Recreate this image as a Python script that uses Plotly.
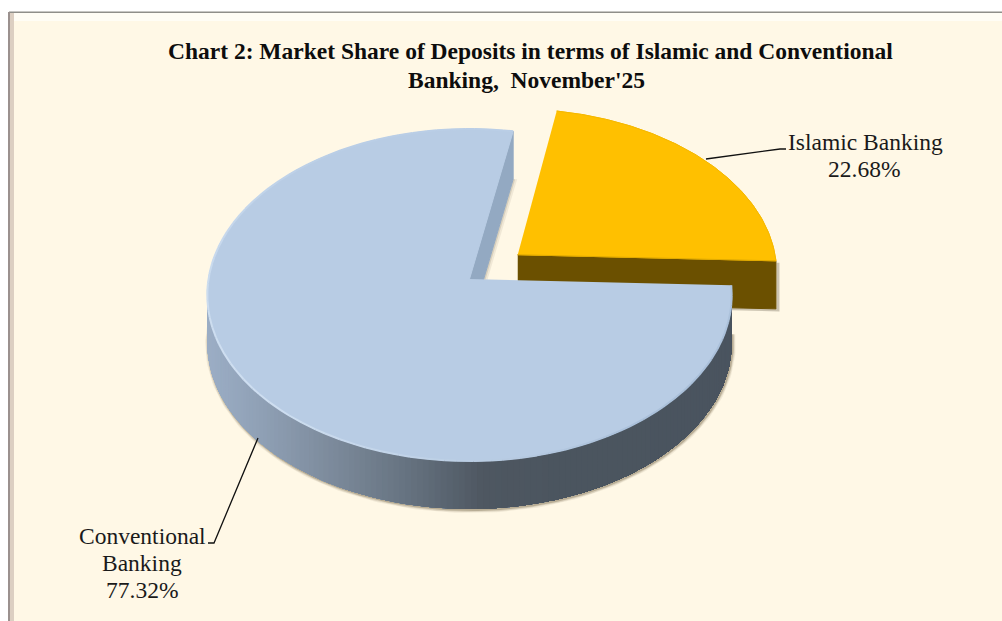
import math
import plotly.graph_objects as go

# ---- data ----
categories = ["Islamic Banking", "Conventional Banking"]
shares = [22.68, 77.32]
title_lines = ["Chart 2: Market Share of Deposits in terms of Islamic and Conventional",
               "Banking,\u00a0 November'25"]

# ---- view of the tilted pie ----
CX, CY = 469.5, 295.0     # ellipse centre on screen
RX, RY = 261.0, 166.0
DIST = 16.0               # how far the true pie centre projects above ellipse centre
K = 0.0964                # perspective strength
DEPTH = 48.0
START_DEG = -2.2          # where the first slice begins
PULL = 0.24               # explode of first slice, in radii

TOP_BLUE = "#B8CCE4"
TOP_GOLD = "#FFC000"
WALL_GOLD = "#6B5000"
CUT_BLUE = "#93A9C2"
BG = "#FFF8E6"


def project(u, v, z=0.0):
    w = 1 + K * v
    return CX + RX * u / w, CY - (RY * v + DIST) / w + z


def arc(a0, a1, ou=0.0, ov=0.0, z=0.0, n=120):
    pts = []
    for i in range(n + 1):
        t = math.radians(a0 + (a1 - a0) * i / n)
        pts.append(project(ou + math.cos(t), ov + math.sin(t), z))
    return pts


def mix(stops, x):
    for (x0, c0), (x1, c1) in zip(stops, stops[1:]):
        if x <= x1:
            f = max(0.0, (x - x0) / (x1 - x0))
            return "rgb(%d,%d,%d)" % tuple(round(a + (b - a) * f) for a, b in zip(c0, c1))
    return "rgb(%d,%d,%d)" % stops[-1][1]


fig = go.Figure()


def poly(pts, fill, line=None, width=1):
    fig.add_trace(go.Scatter(
        x=[p[0] for p in pts], y=[p[1] for p in pts], mode="lines", fill="toself",
        fillcolor=fill, line=dict(color=line or fill, width=width),
        hoverinfo="skip", showlegend=False))


def path(pts, color, width):
    fig.add_trace(go.Scatter(
        x=[p[0] for p in pts], y=[p[1] for p in pts], mode="lines",
        line=dict(color=color, width=width), hoverinfo="skip", showlegend=False))


span_gold = 360.0 * shares[0] / sum(shares)
a_start = START_DEG
a_end = START_DEG + span_gold
a_mid = math.radians((a_start + a_end) / 2)
ou, ov = PULL * math.cos(a_mid), PULL * math.sin(a_mid)

# blue cut face seen through the gap
apex_b = project(0, 0)
blue_end = project(math.cos(math.radians(a_end)), math.sin(math.radians(a_end)))
for off, col in [(4, "rgba(110,100,80,0.10)"), (2, "rgba(110,100,80,0.18)")]:
    poly([(blue_end[0] + off, blue_end[1] + DEPTH), (apex_b[0] + off, apex_b[1] + DEPTH),
          (apex_b[0], apex_b[1] + DEPTH), (blue_end[0], blue_end[1] + DEPTH)], col, width=0)
poly([apex_b, blue_end, (blue_end[0], blue_end[1] + DEPTH), (apex_b[0], apex_b[1] + DEPTH)], CUT_BLUE)

# gold slice
apex_g = project(ou, ov)
gold_arc = arc(a_start, a_end, ou, ov)
gs = gold_arc[0]
wall_g = [apex_g, gs, (gs[0], gs[1] + DEPTH), (apex_g[0], apex_g[1] + DEPTH)]
path([(gs[0] + 2, gs[1] + 2), (gs[0] + 2, gs[1] + DEPTH + 1), (apex_g[0], apex_g[1] + DEPTH + 1)],
     "rgba(110,100,80,0.35)", 3)
poly(wall_g, WALL_GOLD)
poly([apex_g] + gold_arc, TOP_GOLD)
path([apex_g, gs], "#E0AA00", 1)
path(gold_arc, "#F5B800", 1)

# blue slice: shadow, rounded wall, top
blue_arc = arc(a_end, 360 + a_start, n=240)
wall_a0, wall_a1 = 178.0, 360 + a_start
low = arc(wall_a0, wall_a1, z=DEPTH, n=200)
for w, col in [(6, "rgba(120,105,75,0.10)"), (4, "rgba(120,105,75,0.18)"), (2, "rgba(120,105,75,0.35)")]:
    path([(x + 1, y + 1) for x, y in low], col, w)

wall_stops = [(205, (156, 174, 198)), (260, (143, 160, 181)), (330, (124, 138, 155)),
              (400, (103, 116, 130)), (480, (78, 87, 97)), (560, (75, 85, 95)), (735, (74, 84, 95))]
N = 150
for i in range(N):
    # each band runs to the end of the wall and the next one paints over it, so no seams show
    a0 = wall_a0 + (wall_a1 - wall_a0) * i / N
    seg = arc(a0, wall_a1, n=max(4, N - i))
    pts = seg + [(x, y + DEPTH) for x, y in reversed(seg)]
    poly(pts, mix(wall_stops, seg[0][0]), width=0)

poly([apex_b] + blue_arc, TOP_BLUE)
# soft bevel along the rim
B = 90
for i in range(B):
    i0, i1 = i * 240 // B, (i + 1) * 240 // B
    seg = blue_arc[i0:i1 + 1]
    mid = math.radians(a_end + (360 + a_start - a_end) * (i + 0.5) / B)
    light = max(0.0, math.cos(mid - math.radians(215)))
    dark = max(0.0, math.cos(mid - math.radians(320)))
    col = "rgb(%d,%d,%d)" % (
        round(186 + 20 * light - 16 * dark), round(206 + 16 * light - 14 * dark), round(230 + 10 * light - 12 * dark))
    path(seg, col, 2)

# leader lines and labels
label_rows = [
    (categories[0], 865, 142), ("%.2f%%" % shares[0], 864, 169),
    ("Conventional", 142, 536), ("Banking", 142, 563), ("%.2f%%" % shares[1], 142, 590),
]
path([(706, 159), (780, 149), (786, 149)], "#111111", 1.3)
path([(258, 438), (214, 543), (208, 543)], "#111111", 1.3)

annotations = []
for txt, x, y in zip(title_lines, [530, 526], [51, 80]):
    annotations.append(dict(x=x, y=y, xref="x", yref="y", showarrow=False, xanchor="center", yanchor="middle",
                            text="<b>" + txt + "</b>",
                            font=dict(family="Liberation Serif", size=23.5, color="#0d0d0d")))
for txt, x, y in label_rows:
    annotations.append(dict(x=x, y=y, xref="x", yref="y", showarrow=False, xanchor="center", yanchor="middle",
                            text=txt, font=dict(family="Liberation Serif", size=23.5, color="#1a1a1a")))

shapes = [
    dict(type="rect", xref="x", yref="y", x0=9, x1=1002, y0=12, y1=621, fillcolor=BG, line_width=0, layer="below"),
    dict(type="rect", xref="x", yref="y", x0=9, x1=1002, y0=13, y1=21, fillcolor="#FFFDF5", line_width=0, layer="below"),
    dict(type="rect", xref="x", yref="y", x0=9, x1=1002, y0=11.5, y1=13, fillcolor="#8F8F8A", line_width=0, layer="below"),
    dict(type="rect", xref="x", yref="y", x0=8, x1=10, y0=12, y1=621, fillcolor="#9B918E", line_width=0, layer="below"),
    dict(type="rect", xref="x", yref="y", x0=10, x1=14, y0=13, y1=621, fillcolor="#DCCFC2", line_width=0, layer="below"),
]

fig.update_layout(
    width=1002, height=621, autosize=False,
    margin=dict(l=0, r=0, t=0, b=0),
    paper_bgcolor="#FFFFFF", plot_bgcolor="rgba(0,0,0,0)",
    xaxis=dict(range=[0, 1002], visible=False, fixedrange=True),
    yaxis=dict(range=[621, 0], visible=False, fixedrange=True),
    annotations=annotations, shapes=shapes, showlegend=False,
)
fig.write_html("out.html", config={"displayModeBar": False},
               post_script="document.body.style.margin='0';document.documentElement.style.overflow='hidden';")
